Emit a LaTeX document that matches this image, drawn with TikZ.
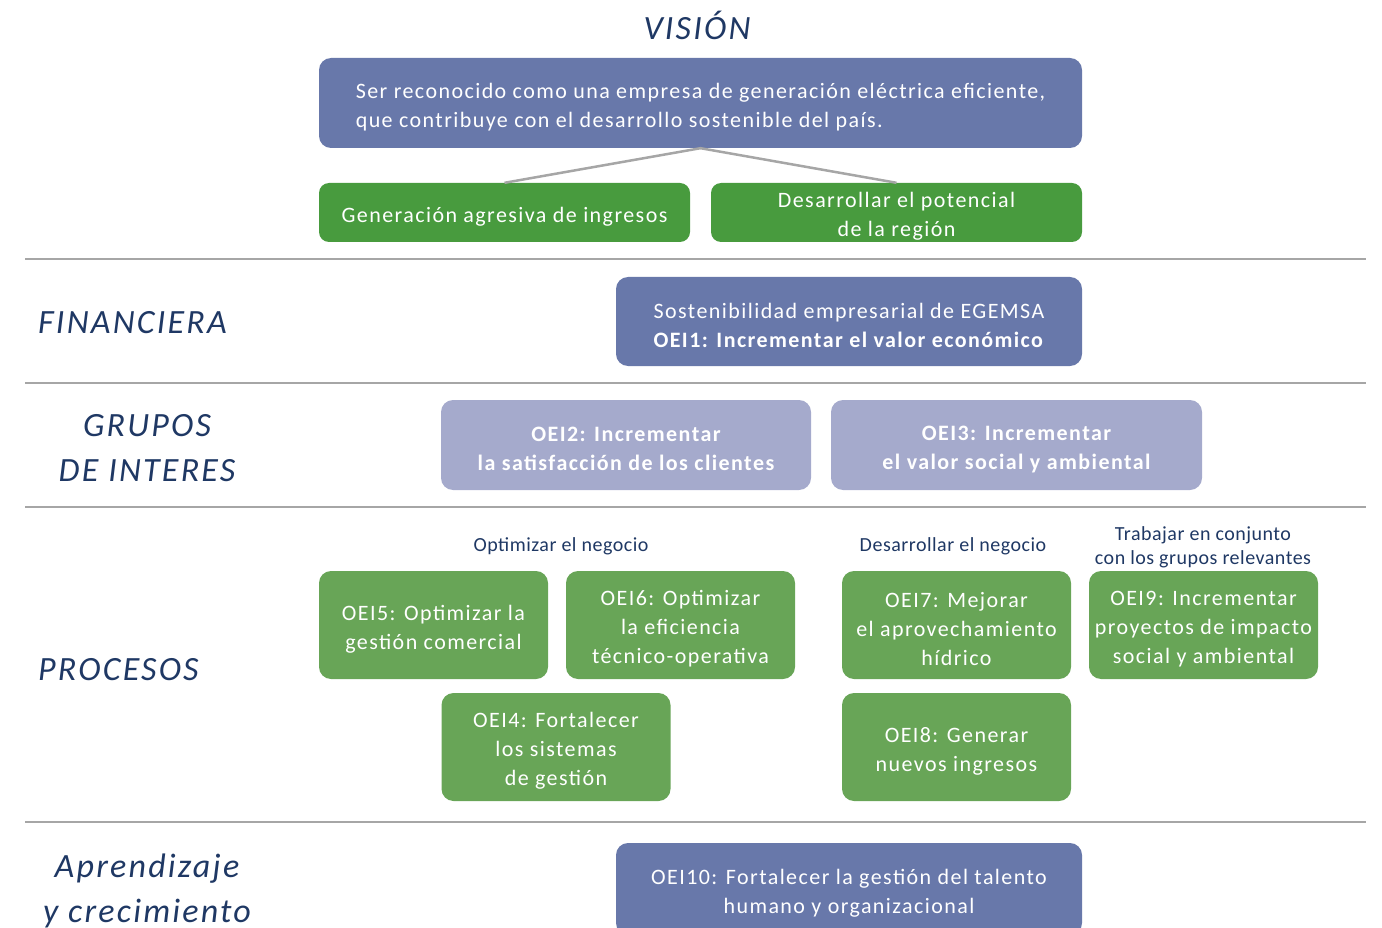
\documentclass[tikz,border=0pt]{standalone}
\usepackage{fontspec}
\setmainfont{Carlito}
\newfontfamily\boxfont[LetterSpace=6.5]{Carlito}
\newfontfamily\titlefont[LetterSpace=6.5]{Carlito}
\newfontfamily\labelfont[LetterSpace=2.5]{Carlito}
\newcommand{\topstrut}{\rule{0pt}{23pt}}
\definecolor{blueobj}{HTML}{6878AA}
\definecolor{lightobj}{HTML}{A5AACC}
\definecolor{darkgreen}{HTML}{489B3E}
\definecolor{lightgreen}{HTML}{68A557}
\definecolor{titleblue}{HTML}{1F3864}
\definecolor{rulegray}{HTML}{A6A6A6}
\tikzset{
	boxbase/.style={rectangle,rounded corners=12pt,text=white,align=center,inner sep=0pt,font=\boxfont\fontsize{22}{29}\selectfont},
	blueboxstyle/.style={boxbase,fill=blueobj},
	lightboxstyle/.style={boxbase,fill=lightobj,font=\boxfont\fontsize{22}{29}\selectfont\bfseries},
	darkgreenstyle/.style={boxbase,rounded corners=10pt,fill=darkgreen},
	greenstyle/.style={boxbase,fill=lightgreen,minimum width=229,minimum height=108},
	perspectivestyle/.style={align=center,text=titleblue,inner sep=0pt,font=\titlefont\fontsize{34}{45}\selectfont\itshape},
	groupstyle/.style={align=center,text=titleblue,inner sep=0pt,font=\labelfont\fontsize{20}{24}\selectfont},
	rulestyle/.style={draw=rulegray,line width=2.5pt}
}
\begin{document}
\begin{tikzpicture}[x=1pt,y=-1pt]
	\useasboundingbox (0,0) rectangle (1382,928);
	% separators
	\coordinate (r1l) at (25,259);
	\coordinate (r1r) at (1366,259);
	\coordinate (r2l) at (25,383);
	\coordinate (r2r) at (1366,383);
	\coordinate (r3l) at (25,507);
	\coordinate (r3r) at (1366,507);
	\coordinate (r4l) at (25,822);
	\coordinate (r4r) at (1366,822);
	\draw[rulestyle] (r1l)--(r1r);
	\draw[rulestyle] (r2l)--(r2r);
	\draw[rulestyle] (r3l)--(r3r);
	\draw[rulestyle] (r4l)--(r4r);
	% perspectives
	\node[perspectivestyle] (vision) at (697,25) {VISIÓN};
	\node[perspectivestyle,anchor=west] (fin) at (38,323) {FINANCIERA};
	\node[perspectivestyle] (grupos) at (147,448) {GRUPOS\\DE INTERES};
	\node[perspectivestyle,anchor=west] (proc) at (38,670) {PROCESOS};
	\node[perspectivestyle] (apren) at (147,891) {Aprendizaje\\y crecimiento};
	% vision
	\node[blueboxstyle,minimum width=763,minimum height=90,align=left] (vis) at (700.5,103) {\topstrut Ser reconocido como una empresa de generación eléctrica eficiente,\\que contribuye con el desarrollo sostenible del país.};
	\node[darkgreenstyle,minimum width=371,minimum height=59] (ingresos) at (504.5,212.5) {\topstrut Generación agresiva de ingresos};
	\node[darkgreenstyle,minimum width=371,minimum height=59] (region) at (896.5,212.5) {\topstrut Desarrollar el potencial\\de la región};
	\draw[rulegray,line width=2.5pt] (ingresos.north)--(vis.south)--(region.north);
	% financiera
	\node[blueboxstyle,minimum width=466,minimum height=89] (oei1) at (849,321.5) {\topstrut Sostenibilidad empresarial de EGEMSA\\\textbf{OEI1: Incrementar el valor económico}};
	% grupos de interes
	\node[lightboxstyle,minimum width=370,minimum height=90] (oei2) at (626,445) {\topstrut OEI2: Incrementar\\la satisfacción de los clientes};
	\node[lightboxstyle,minimum width=371,minimum height=90] (oei3) at (1016.5,445) {\topstrut OEI3: Incrementar\\el valor social y ambiental};
	% procesos
	\node[groupstyle] (optim) at (561,546) {Optimizar el negocio};
	\node[groupstyle] (desar) at (953,546) {Desarrollar el negocio};
	\node[groupstyle] (trab) at (1203,547) {Trabajar en conjunto\\con los grupos relevantes};
	\node[greenstyle] (oei5) at (433.5,625) {\topstrut OEI5: Optimizar la\\gestión comercial};
	\node[greenstyle] (oei6) at (680.5,625) {\topstrut OEI6: Optimizar\\la eficiencia\\técnico-operativa};
	\node[greenstyle] (oei7) at (956.5,625) {\topstrut OEI7: Mejorar\\el aprovechamiento\\hídrico};
	\node[greenstyle] (oei9) at (1203.5,625) {\topstrut OEI9: Incrementar\\proyectos de impacto\\social y ambiental};
	\node[greenstyle] (oei4) at (556,747) {\topstrut OEI4: Fortalecer\\los sistemas\\de gestión};
	\node[greenstyle] (oei8) at (956.5,747) {\topstrut OEI8: Generar\\nuevos ingresos};
	% aprendizaje
	\node[blueboxstyle,minimum width=466,minimum height=92] (oei10) at (849,889) {\topstrut OEI10: Fortalecer la gestión del talento\\humano y organizacional};
\end{tikzpicture}
\end{document}
